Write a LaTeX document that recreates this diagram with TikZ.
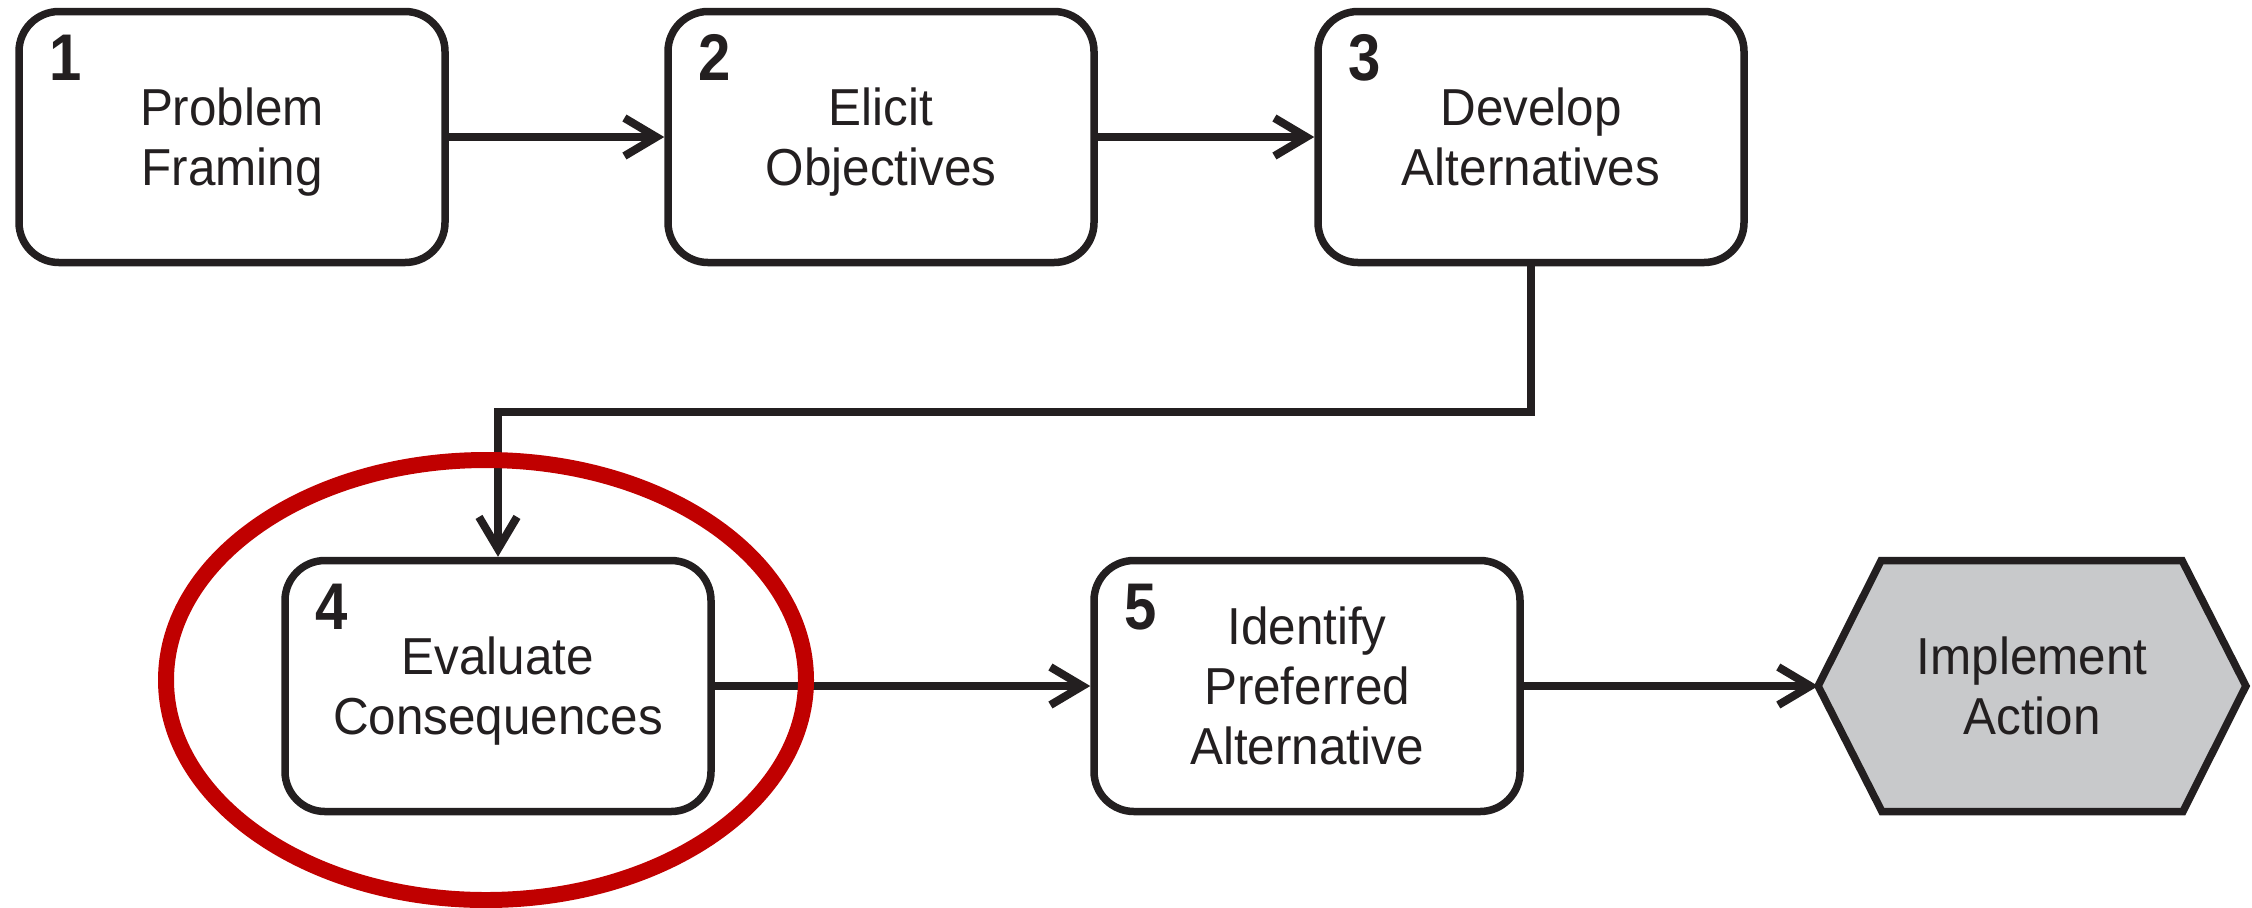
\documentclass[tikz,border=0pt]{standalone}
\usepackage{fontspec}
\setmainfont[FakeStretch=0.95]{Liberation Sans}
\newfontfamily\numfont[FakeStretch=0.88]{Liberation Sans}
\usetikzlibrary{arrows.meta,backgrounds,calc}
\definecolor{boxc}{HTML}{231F20}
\definecolor{txtc}{HTML}{231F20}
\definecolor{hexfill}{HTML}{C8C9CB}
\definecolor{ringc}{HTML}{C00000}
\begin{document}
\begin{tikzpicture}[x=0.5pt,y=-0.5pt,
  stepbox/.style={draw=boxc, line width=3.75pt, rounded corners=20pt, fill=white,
    minimum width=213pt, minimum height=125.5pt, align=center,
    font=\fontsize{26}{30}\selectfont, text=txtc, inner sep=0pt, text depth=0pt},
  hexnode/.style={minimum width=213.5pt, minimum height=125.5pt, align=center,
    font=\fontsize{26}{30}\selectfont, text=txtc, inner sep=0pt, text depth=0pt},
  hexline/.style={draw=boxc, line width=3.75pt, fill=hexfill, line join=miter},
  numlbl/.style={font=\numfont\fontsize{33}{36}\selectfont\bfseries, text=txtc,
    inner sep=0pt, anchor=west},
  flow/.style={draw=boxc, line width=4pt, -{Straight Barb[length=16pt,width=19pt]}},
  ring/.style={draw=ringc, line width=8pt}]
\useasboundingbox (0,0) rectangle (2252,907);

\node[stepbox] (s1) at (232,137) {Problem\\Framing};
\node[stepbox] (s2) at (881,137) {Elicit\\Objectives};
\node[stepbox] (s3) at (1531,137) {Develop\\Alternatives};
\node[stepbox] (s4) at (498,686) {Evaluate\\Consequences};
\node[stepbox] (s5) at (1307,686) {Identify\\Preferred\\Alternative};
\node[hexnode] (act) at (2032,686) {Implement\\Action};

\begin{scope}[on background layer]
  \path[hexline] (act.west) -- ++(63,-125.5) -- ++(301,0) -- (act.east)
    -- ++(-63,125.5) -- ++(-301,0) -- cycle;
\end{scope}

\node[numlbl] (n1) at ($(s1.north west)+(34,50)$) {1};
\node[numlbl] (n2) at ($(s2.north west)+(34,50)$) {2};
\node[numlbl] (n3) at ($(s3.north west)+(34,50)$) {3};
\node[numlbl] (n4) at ($(s4.north west)+(34,50)$) {4};
\node[numlbl] (n5) at ($(s5.north west)+(34,50)$) {5};

\coordinate (bend) at (1531,412);
\draw[flow] (s1.east) -- (s2.west);
\draw[flow] (s2.east) -- (s3.west);
\draw[flow] (s3.south) -- (s3.south |- bend) -| (s4.north);
\draw[flow] (s4.east) -- (s5.west);
\draw[flow] (s5.east) -- (act.west);

\draw[ring] (486,680) ellipse [x radius=160pt, y radius=110pt];
\end{tikzpicture}
\end{document}
